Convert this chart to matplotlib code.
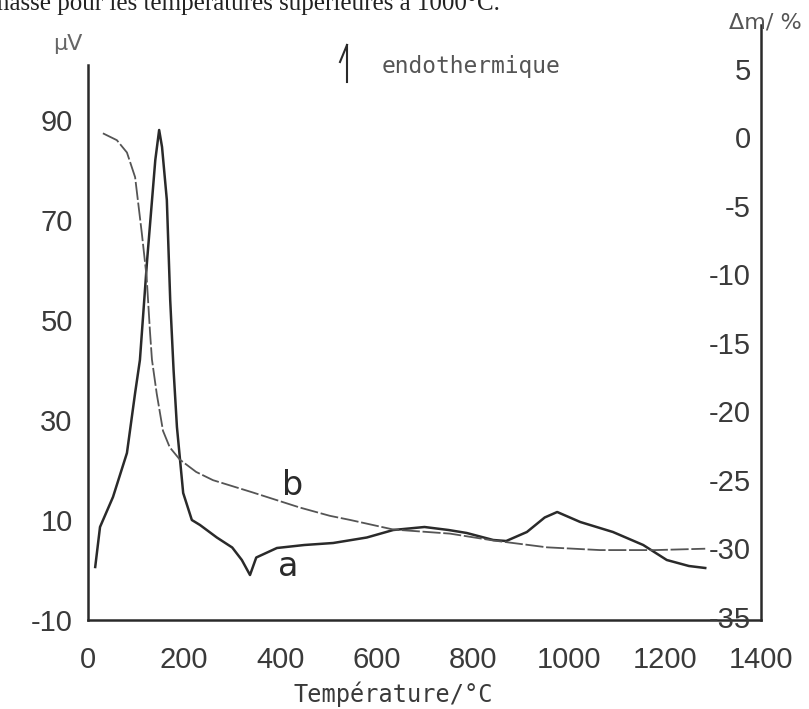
import matplotlib
matplotlib.use('Agg')
import matplotlib.pyplot as plt

# curve a : ATD signal (left axis, microvolts)
temp_a = [15, 25, 52, 81, 98, 108, 123, 140, 148, 154, 164, 171, 178, 185, 198, 216,
          233, 268, 300, 320, 337, 350, 393, 450, 510, 580, 635, 700, 750, 788, 843,
          870, 913, 950, 976, 1024, 1092, 1155, 1204, 1250, 1284]
signal_a = [0.6, 8.6, 14.6, 23.4, 35.4, 42, 62, 82, 88, 84.6, 74, 54, 40, 28.6, 15.4, 10,
            9, 6.5, 4.5, 2, -1, 2.5, 4.4, 5, 5.4, 6.5, 8, 8.6, 8, 7.4, 6,
            5.8, 7.6, 10.5, 11.6, 9.6, 7.6, 5, 2, 0.8, 0.4]

# curve b : ATG mass loss (right axis, %)
temp_b = [31, 60, 81, 98, 112, 122, 129, 133, 143, 156, 170, 191, 225, 260, 343, 441,
          503, 545, 635, 753, 843, 955, 1065, 1180, 1284]
mass_b = [0.5, 0.0, -0.9, -2.7, -6.8, -10, -14, -16, -18.5, -21.2, -22.4, -23.3, -24.2,
          -24.8, -25.7, -26.8, -27.4, -27.7, -28.4, -28.7, -29.2, -29.7, -29.9, -29.9, -29.8]

x_ticks = [0, 200, 400, 600, 800, 1000, 1200, 1400]
left_ticks = [90, 70, 50, 30, 10, -10]
right_ticks = [5, 0, -5, -10, -15, -20, -25, -30, -35]

W, H = 809, 709
fig = plt.figure(figsize=(W / 100, H / 100), dpi=100)
ax = fig.add_axes([88 / W, 1 - 620 / H, (761 - 88) / W, (620 - 25) / H])
ax2 = ax.twinx()

ink = '#2a2a2a'
txt = '#3a3a3a'
tick_font = 'Liberation Sans'

# curves
ax.plot(temp_a, signal_a, color=ink, lw=1.8, solid_joinstyle='round')
ax2.plot(temp_b, mass_b, color='#555555', lw=1.3, dashes=(10, 1.5))

# axes limits
ax.set_xlim(0, 1400)
ax.set_ylim(-10, 109)
ax2.set_ylim(-35, 8.4)

for a in (ax, ax2):
    a.spines['top'].set_visible(False)
    for s in a.spines.values():
        s.set_color(ink)
        s.set_linewidth(1.8)
ax.spines['right'].set_visible(False)
ax2.spines['left'].set_visible(False)
ax2.spines['bottom'].set_visible(False)
ax.spines['left'].set_bounds(-10, 101)

ax.set_xticks(x_ticks)
ax.set_xticklabels([str(t) for t in x_ticks], fontsize=21, color=txt, family=tick_font)
ax.set_yticks(left_ticks)
ax.set_yticklabels([str(t) for t in left_ticks], fontsize=21, color=txt, family=tick_font)
ax.tick_params(axis='x', length=0, pad=19)
ax.tick_params(axis='y', length=0, pad=11)

# right axis labels sit inside the frame, left of the spine
ax2.set_yticks(right_ticks)
ax2.set_yticklabels([])
ax2.tick_params(axis='y', length=0)
for v in right_ticks:
    ax2.text(0.985, v, str(v), transform=ax2.get_yaxis_transform(), ha='right', va='center',
             fontsize=21, color=txt, family=tick_font)

# curve labels
ax.text(416, 0.6, 'a', fontsize=24, color=ink, ha='center', va='center')
ax2.text(425, -25.2, 'b', fontsize=24, color=ink, ha='center', va='center')

# axis titles
fig.text(393 / W, 1 - 694 / H, 'Température/°C', fontsize=17, color=txt,
         family='DejaVu Sans Mono', ha='center', va='center')
fig.text(68 / W, 1 - 44 / H, 'µV', fontsize=16, color='#666666', ha='center', va='center')
fig.text(765 / W, 1 - 22 / H, 'Δm/ %', fontsize=16, color='#555555', ha='center', va='center')

# endothermic arrow and note
fig.add_artist(plt.Line2D([347 / W, 347 / W], [1 - 45 / H, 1 - 82 / H], color=ink, lw=1.5))
fig.add_artist(plt.Line2D([347 / W, 340 / W], [1 - 45 / H, 1 - 62 / H], color=ink, lw=1.5))
fig.text(382 / W, 1 - 66 / H, 'endothermique', fontsize=16.5, color='#555555',
         family='DejaVu Sans Mono', ha='left', va='center')

# cut-off line of the surrounding document text
fig.text(-10 / W, 1 - 10 / H, 'masse pour les températures supérieures à 1000°C.', fontsize=18,
         color='#222222', family='Liberation Serif', ha='left', va='baseline')

plt.savefig('out.png', dpi=100)
